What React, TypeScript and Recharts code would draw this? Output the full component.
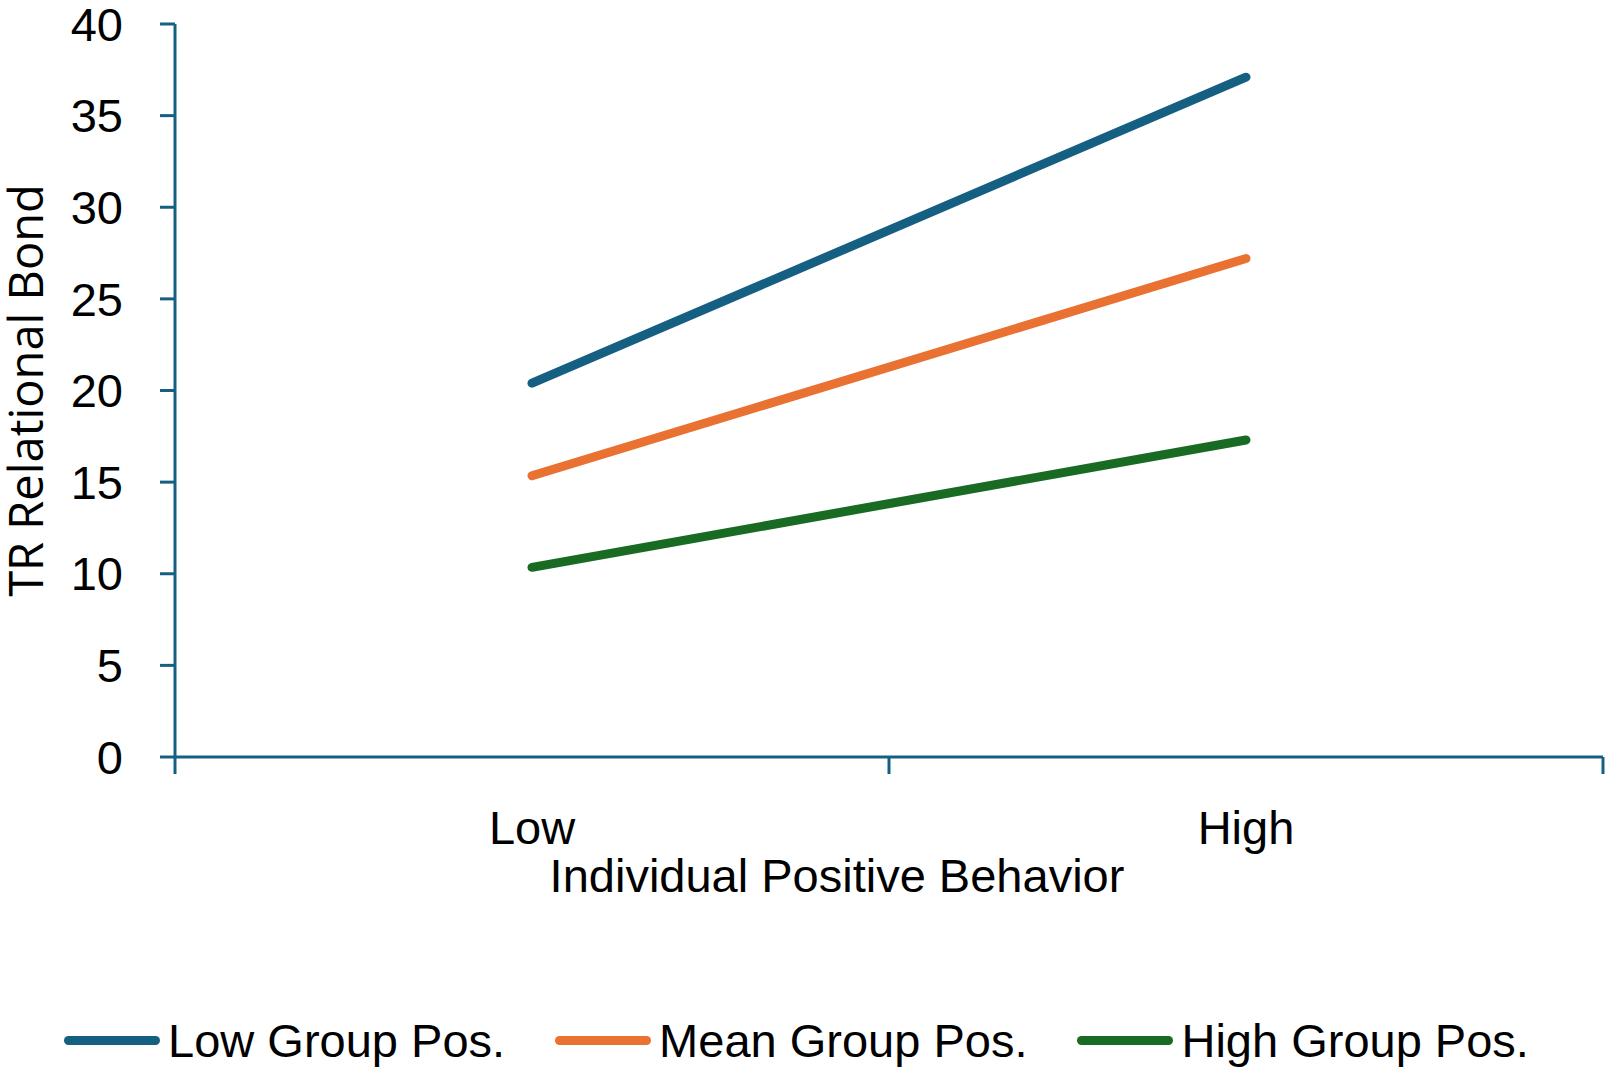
import { LineChart, Line, XAxis, YAxis, Legend, Label } from 'recharts';

// categories on the x axis and the three moderator lines
const categories = ['Low', 'High'];
const lowGroupPos = [20.4, 37.1];
const meanGroupPos = [15.35, 27.2];
const highGroupPos = [10.35, 17.3];

const yTicks = [0, 5, 10, 15, 20, 25, 30, 35, 40];
// band edges get a tick mark, band centres get the category label
const xTicks = [0, 0.5, 1, 1.5, 2];

const series = [
  { key: 'low', name: 'Low Group Pos.', color: '#156082' },
  { key: 'mean', name: 'Mean Group Pos.', color: '#E97132' },
  { key: 'high', name: 'High Group Pos.', color: '#196B24' }
];

const chartData = categories.map((label, i) => ({
  pos: i + 0.5,
  label,
  low: lowGroupPos[i],
  mean: meanGroupPos[i],
  high: highGroupPos[i]
}));

const AXIS_COLOR = '#156082';
const FONT = '"Liberation Sans", Arial, sans-serif';
const TICK_LEN = 17;

const XTick = ({ x, y, payload }: any) => {
  const v = payload.value;
  if (Number.isInteger(v)) {
    return (
      <line x1={x} x2={x} y1={y - TICK_LEN} y2={y} stroke={AXIS_COLOR} strokeWidth={3} />
    );
  }
  return (
    <text x={x} y={y + 70} textAnchor="middle" fontFamily={FONT} fontSize={47} fill="#000">
      {categories[Math.floor(v)]}
    </text>
  );
};

const XTitle = ({ viewBox }: any) => (
  <text
    x={viewBox.x + viewBox.width / 2 - 52}
    y={viewBox.y + 135}
    textAnchor="middle"
    fontFamily={FONT}
    fontSize={47}
    fill="#000"
  >
    Individual Positive Behavior
  </text>
);

const YTitle = ({ viewBox }: any) => {
  const cx = viewBox.x + 43;
  const cy = viewBox.y + viewBox.height / 2;
  return (
    <text
      x={cx}
      y={cy}
      transform={`rotate(-90, ${cx}, ${cy})`}
      textAnchor="middle"
      fontFamily='"Open Sans", sans-serif'
      fontSize={47}
      fill="#000"
    >
      TR Relational Bond
    </text>
  );
};

// keep the legend in series order (recharts sorts by name otherwise)
const LegendContent = ({ payload }: any) => {
  const items = [...(payload || [])].sort(
    (a: any, b: any) =>
      series.findIndex(s => s.name === a.value) - series.findIndex(s => s.name === b.value)
  );
  return (
    <div
      style={{
        display: 'flex',
        justifyContent: 'center',
        alignItems: 'center',
        height: 70,
        gap: 50,
        fontFamily: FONT,
        fontSize: 47,
        color: '#000',
        paddingRight: 10
      }}
    >
      {items.map((entry: any) => (
        <div key={entry.value} style={{ display: 'flex', alignItems: 'center', gap: 8 }}>
          <div style={{ width: 96, height: 9, borderRadius: 5, background: entry.color }} />
          <span style={{ whiteSpace: 'nowrap' }}>{entry.value}</span>
        </div>
      ))}
    </div>
  );
};

export default function App() {
  return (
    <div style={{ position: 'absolute', left: 0, top: 0, width: 1610, height: 1075, background: '#fff' }}>
      <LineChart width={1610} height={1075} data={chartData} margin={{ top: 24, right: 7, left: 0, bottom: 0 }}>
        <XAxis
          dataKey="pos"
          type="number"
          domain={[0, 2]}
          ticks={xTicks}
          interval={0}
          tickLine={false}
          tickSize={TICK_LEN}
          tickMargin={0}
          tick={<XTick />}
          axisLine={{ stroke: AXIS_COLOR, strokeWidth: 3 }}
          height={248}
        >
          <Label content={<XTitle />} />
        </XAxis>
        <YAxis
          domain={[0, 40]}
          ticks={yTicks}
          interval={0}
          width={175}
          tickSize={15}
          tickMargin={37}
          tickLine={{ stroke: AXIS_COLOR, strokeWidth: 3 }}
          axisLine={{ stroke: AXIS_COLOR, strokeWidth: 3 }}
          tick={{ fill: '#000', fontSize: 47, fontFamily: FONT }}
        >
          <Label content={<YTitle />} />
        </YAxis>
        <Legend verticalAlign="bottom" content={<LegendContent />} />
        {series.map(s => (
          <Line
            key={s.key}
            dataKey={s.key}
            name={s.name}
            stroke={s.color}
            strokeWidth={9}
            strokeLinecap="round"
            dot={false}
            activeDot={false}
            type="linear"
            isAnimationActive={false}
          />
        ))}
      </LineChart>
    </div>
  );
}
